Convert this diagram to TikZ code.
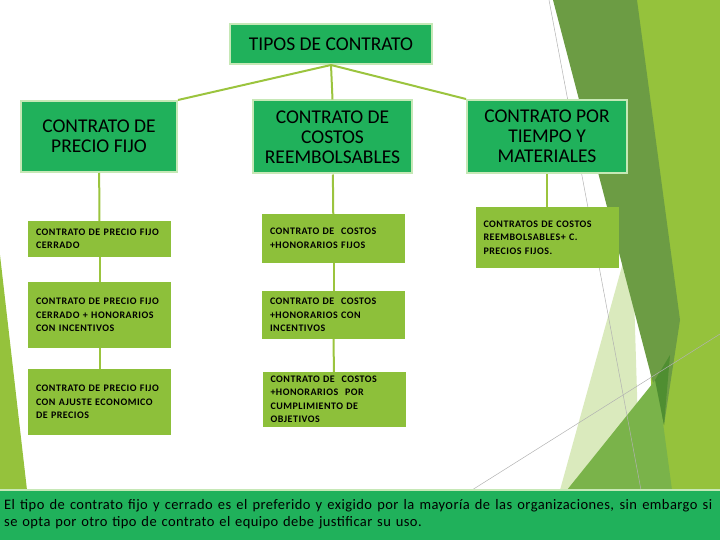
\documentclass[tikz,border=0pt]{standalone}
\usepackage{fontspec}
\setmainfont{Carlito}
\newfontfamily\subfont[LetterSpace=5]{Carlito}
\newfontfamily\notafont[LetterSpace=3]{Carlito}
\definecolor{hdrgreen}{HTML}{20B15B}
\definecolor{hdredge}{HTML}{C6E8B6}
\definecolor{subgreen}{HTML}{8DC03A}
\definecolor{lnkgreen}{HTML}{9BC43E}
\definecolor{limeband}{HTML}{95C23C}
\definecolor{darkband}{HTML}{6C9C44}
\definecolor{paleband}{HTML}{DAEABD}
\definecolor{midband}{HTML}{7AB34A}
\definecolor{deepband}{HTML}{4F8E31}
\begin{document}
\begin{tikzpicture}[x=1pt,y=-1pt,
  hdr/.style={draw=hdredge,line width=2pt,fill=hdrgreen,align=center,
    font=\fontsize{19.5}{20}\selectfont,inner sep=0pt},
  sub/.style={fill=subgreen,text width=127pt,inner xsep=8pt,inner ysep=0pt,
    align=left,font=\subfont\bfseries\fontsize{10}{13.5}\selectfont},
  lnk/.style={draw=lnkgreen,line width=2pt}]
  \useasboundingbox (0,0) rectangle (720,540);
  \fill[limeband] (637,0) -- (720,0) -- (720,490) -- (655,490) -- cycle;
  \fill[paleband] (632,230) -- (560,490) -- (640,490) -- cycle;
  \fill[darkband] (553,0) -- (637,0) -- (680,320) -- (664,425) -- cycle;
  \fill[midband] (567,490) -- (657,378) -- (672,490) -- cycle;
  \fill[deepband] (655,380) -- (670,355) -- (664,425) -- cycle;
  \fill[limeband] (0,255) -- (27,490) -- (0,490) -- cycle;
  \draw[gray!60,line width=0.5pt] (549,0) -- (641,490);
  \draw[gray!60,line width=0.5pt] (472,490) -- (720,334);

  \node[hdr,minimum width=202pt,minimum height=40pt] (tipos) at (331,44) {TIPOS DE CONTRATO};
  \node[hdr,minimum width=156pt,minimum height=71pt] (fijo) at (99,136.5) {CONTRATO DE\\PRECIO FIJO};
  \node[hdr,minimum width=159pt,minimum height=73pt] (costos) at (332.5,137) {CONTRATO DE\\COSTOS\\REEMBOLSABLES};
  \node[hdr,minimum width=160pt,minimum height=73pt] (tiempo) at (547,136.5) {CONTRATO POR\\TIEMPO Y\\MATERIALES};

  \node[sub,minimum height=36pt] (f1) at (99.5,239) {CONTRATO DE PRECIO FIJO\\CERRADO};
  \node[sub,minimum height=66pt] (f2) at (99.5,315) {CONTRATO DE PRECIO FIJO\\CERRADO + HONORARIOS\\CON INCENTIVOS};
  \node[sub,minimum height=66pt] (f3) at (99.5,402) {CONTRATO DE PRECIO FIJO\\CON AJUSTE ECONOMICO\\DE PRECIOS};
  \node[sub,minimum height=49pt] (c1) at (333.5,238.5) {CONTRATO DE \ COSTOS\\+HONORARIOS FIJOS};
  \node[sub,minimum height=48pt] (c2) at (333.5,315) {CONTRATO DE \ COSTOS\\+HONORARIOS CON\\INCENTIVOS};
  \node[sub,minimum height=55pt] (c3) at (334,399.5) {CONTRATO DE \ COSTOS\\+HONORARIOS \ POR\\CUMPLIMIENTO DE\\OBJETIVOS};
  \node[sub,minimum height=61pt] (t1) at (547,237.5) {CONTRATOS DE COSTOS\\REEMBOLSABLES+ C.\\PRECIOS FIJOS.};

  \draw[lnk] (tipos.south) -- (fijo.north east);
  \draw[lnk] (tipos.south) -- (costos.north);
  \draw[lnk] (tipos.south) -- (tiempo.north west);
  \draw[lnk] (fijo) -- (f1);
  \draw[lnk] (f1) -- (f2);
  \draw[lnk] (f2) -- (f3);
  \draw[lnk] (costos) -- (c1);
  \draw[lnk] (c1) -- (c2);
  \draw[lnk] (c2) -- (c3);
  \draw[lnk] (tiempo) -- (t1);

  \fill[hdrgreen] (0,490) rectangle (720,540);
  \draw[hdredge,line width=2pt] (0,490) -- (720,490);
  \node[anchor=north west,inner sep=0pt,text width=710pt,align=left,
    font=\notafont\fontsize{14.5}{17}\selectfont] (nota) at (4,499)
    {\makebox[708pt][s]{\spaceskip=0.25em plus 2em El tipo de contrato fijo y cerrado es el preferido y exigido por la mayoría de las organizaciones, sin embargo si}\\
     se opta por otro tipo de contrato el equipo debe justificar su uso.};
\end{tikzpicture}
\end{document}
